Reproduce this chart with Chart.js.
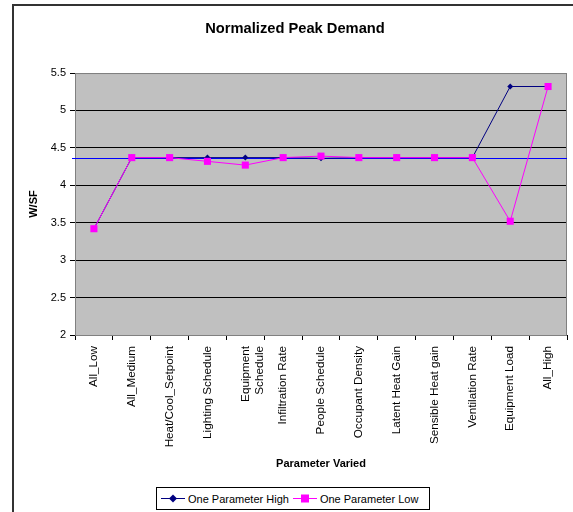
<!DOCTYPE html>
<html>
<head>
<meta charset="utf-8">
<script src="https://cdn.jsdelivr.net/npm/chart.js@4"></script>
<style>
    body { margin: 0; background: #fff; font-family: "Liberation Sans", Arial, sans-serif; }
    #wrap { position: relative; width: 573px; height: 512px; overflow: hidden; }
    #frame { position: absolute; left: 12px; top: 4px; width: 700px; height: 700px; border-left: 2px solid #333; border-top: 2px solid #333; }
    #chart { position: absolute; left: 0; top: 0; }
    #legend { position: absolute; left: 156px; top: 487px; width: 272px; height: 21px; border: 1px solid #000; background: #fff;
        font-size: 11px; display: flex; align-items: center; white-space: nowrap; }
    #legend .item { display: flex; align-items: center; margin-left: 4px; }
    #legend svg { margin-right: 3px; }
</style>
</head>
<body>
<div id="wrap">
    <div id="frame"></div>
    <canvas id="chart" width="573" height="512"></canvas>
    <div id="legend"></div>
</div>
<script>
const categories = ['All_Low', 'All_Medium', 'Heat/Cool_Setpoint', 'Lighting Schedule', ['Equipment', 'Schedule'],
    'Infiltration Rate', 'People Schedule', 'Occupant Density', 'Latent Heat Gain', 'Sensible Heat gain',
    'Ventilation Rate', 'Equipment Load', 'All_High'];
const highValues = [3.42, 4.37, 4.37, 4.37, 4.37, 4.37, 4.36, 4.37, 4.37, 4.37, 4.37, 5.32, 5.32];
const lowValues = [3.42, 4.37, 4.37, 4.32, 4.27, 4.37, 4.39, 4.37, 4.37, 4.37, 4.37, 3.52, 5.32];
const baselineValue = 4.36;
const yTicks = [2, 2.5, 3, 3.5, 4, 4.5, 5, 5.5];

const fontFamily = '"Liberation Sans", Arial, sans-serif';
const highColor = '#000080';
const lowColor = '#ff00ff';

// grey plot area, border and the blue reference line
const plotPlugin = {
    id: 'plotArea',
    beforeDraw(chart) {
        const { ctx, chartArea: a } = chart;
        ctx.save();
        ctx.fillStyle = '#c0c0c0';
        ctx.fillRect(a.left, a.top, a.right - a.left, a.bottom - a.top);
        ctx.restore();
    },
    beforeDatasetsDraw(chart) {
        const { ctx, chartArea: a, scales } = chart;
        ctx.save();
        ctx.strokeStyle = '#808080';
        ctx.lineWidth = 1;
        ctx.strokeRect(a.left + 0.5, a.top + 0.5, a.right - a.left - 1, a.bottom - a.top);
        const y = Math.round(scales.y.getPixelForValue(baselineValue)) + 0.5;
        ctx.strokeStyle = '#0000ff';
        ctx.beginPath();
        ctx.moveTo(a.left - 3, y);
        ctx.lineTo(a.right, y);
        ctx.stroke();
        ctx.restore();
    }
};

new Chart(document.getElementById('chart').getContext('2d'), {
    type: 'line',
    data: {
        labels: categories,
        datasets: [
            {
                label: 'One Parameter High', data: highValues, order: 1,
                borderColor: highColor, backgroundColor: highColor, borderWidth: 1,
                pointStyle: 'rectRot', pointRadius: 3, pointBorderWidth: 0, tension: 0
            },
            {
                label: 'One Parameter Low', data: lowValues, order: 0,
                borderColor: lowColor, backgroundColor: lowColor, borderWidth: 1,
                pointStyle: 'rect', pointRadius: 5, pointBorderWidth: 0, tension: 0
            }
        ]
    },
    options: {
        responsive: false,
        animation: false,
        layout: { padding: { left: 23, right: 6, top: 0, bottom: 41 } },
        plugins: {
            legend: { display: false },
            tooltip: { enabled: false },
            title: {
                display: true,
                text: 'Normalized Peak Demand',
                color: '#000',
                font: { family: fontFamily, size: 14.7, weight: 'bold' },
                padding: { top: 20, bottom: 35.4 }
            }
        },
        scales: {
            x: {
                type: 'category',
                offset: true,
                grid: { drawOnChartArea: false, offset: true, tickLength: 5, tickColor: '#000' },
                border: { color: '#000' },
                ticks: { color: '#000', font: { family: fontFamily, size: 11.7 }, minRotation: 90, maxRotation: 90, padding: 6, autoSkip: false },
                title: { display: true, text: 'Parameter Varied', color: '#000', font: { family: fontFamily, size: 11, weight: 'bold' }, padding: { top: 0, bottom: 0 } },
                afterFit(scale) { scale.height = 136; }
            },
            y: {
                min: 2,
                max: 5.5,
                afterBuildTicks(scale) { scale.ticks = yTicks.map(v => ({ value: v })); },
                grid: {
                    color: ctx => (ctx.tick && ctx.tick.value === 5.5 ? '#808080' : '#000'),
                    tickLength: 5, tickColor: '#000'
                },
                border: { color: '#808080' },
                ticks: { color: '#000', font: { family: fontFamily, size: 11 }, padding: 4, callback: v => String(v) },
                title: { display: true, text: 'W/SF', color: '#000', font: { family: fontFamily, size: 11, weight: 'bold' }, padding: { top: 4.5, bottom: 0 } },
                afterFit(scale) { scale.width = 52; }
            }
        }
    },
    plugins: [plotPlugin]
});

// legend drawn as html, line with marker like the original
function legendItem(label, color, marker) {
    const shape = marker === 'diamond'
        ? `<polygon points="12,0.5 16,4.5 12,8.5 8,4.5" fill="${color}"/>`
        : `<rect x="8" y="0.5" width="8" height="8" fill="${color}"/>`;
    return `<div class="item"><svg width="24" height="9"><line x1="0" y1="4.5" x2="24" y2="4.5" stroke="${color}" stroke-width="1"/>${shape}</svg><span>${label}</span></div>`;
}
document.getElementById('legend').innerHTML =
    legendItem('One Parameter High', highColor, 'diamond') + legendItem('One Parameter Low', lowColor, 'square');
</script>
</body>
</html>
